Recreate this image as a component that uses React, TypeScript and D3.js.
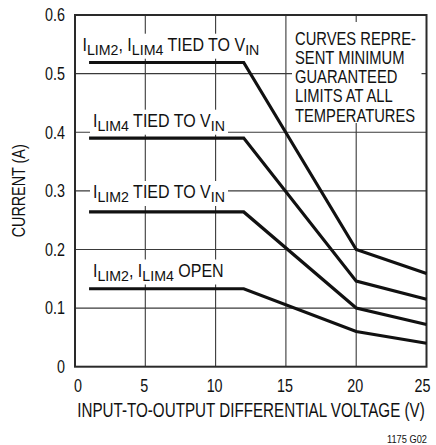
import React from "react";
import * as d3 from "d3";

const voltage = [1, 12, 20, 25];
const bothTied = [0.519, 0.519, 0.2, 0.159];
const lim4Tied = [0.39, 0.39, 0.146, 0.115];
const lim2Tied = [0.264, 0.264, 0.1, 0.072];
const bothOpen = [0.133, 0.133, 0.06, 0.04];

const xTicks = [0, 5, 10, 15, 20, 25];
const yTicks = [0, 0.1, 0.2, 0.3, 0.4, 0.5, 0.6];
const yTickLabels = ["0", "0.1", "0.2", "0.3", "0.4", "0.5", "0.6"];

type Seg = { t: string; sub?: boolean };
const label1: Seg[] = [{ t: "I" }, { t: "LIM2", sub: true }, { t: ", I" }, { t: "LIM4", sub: true }, { t: " TIED TO V" }, { t: "IN", sub: true }];
const label2: Seg[] = [{ t: "I" }, { t: "LIM4", sub: true }, { t: " TIED TO V" }, { t: "IN", sub: true }];
const label3: Seg[] = [{ t: "I" }, { t: "LIM2", sub: true }, { t: " TIED TO V" }, { t: "IN", sub: true }];
const label4: Seg[] = [{ t: "I" }, { t: "LIM2", sub: true }, { t: ", I" }, { t: "LIM4", sub: true }, { t: " OPEN" }];

const noteLines = ["CURVES REPRE-", "SENT MINIMUM", "GUARANTEED", "LIMITS AT ALL", "TEMPERATURES"];
const xTitle = "INPUT-TO-OUTPUT DIFFERENTIAL VOLTAGE (V)";
const yTitle = "CURRENT (A)";
const figId = "1175 G02";

const W = 436, H = 445;
const SANS = "'Liberation Sans', Arial, sans-serif";
const SX = 0.82; // horizontal condensing

export default function App() {
  const x = d3.scaleLinear().domain([0, 25]).range([75, 426.5]);
  const y = d3.scaleLinear().domain([0, 0.6]).range([366.7, 15]);
  const line = d3.line<number>().x((_, i) => x(voltage[i])).y((d) => y(d));
  const series = [bothTied, lim4Tied, lim2Tied, bothOpen];

  const labelLayout = [
    { segs: label1, x: 82.5, y: 50.7, w: 179 },
    { segs: label2, x: 93, y: 126.7, w: 132 },
    { segs: label3, x: 93, y: 198, w: 132 },
    { segs: label4, x: 93, y: 276.5, w: 131 },
  ];

  const renderLabel = (segs: Seg[]) => {
    let inSub = false;
    return segs.map((s, i) => {
      let dy = 0;
      if (s.sub && !inSub) { dy = 4.4; inSub = true; }
      else if (!s.sub && inSub) { dy = -4.4; inSub = false; }
      return (
        <tspan key={i} dy={dy} fontSize={s.sub ? 15.5 : 17.5}>{s.t}</tspan>
      );
    });
  };

  const Narrow = ({ tx, ty, anchor = "start", size, children, rot = 0, sx = SX }: any) => (
    <g transform={`translate(${tx},${ty}) rotate(${rot}) scale(${sx},1)`}>
      <text x={0} y={0} textAnchor={anchor} fontFamily={SANS} fontSize={size} fill="#111">{children}</text>
    </g>
  );

  return (
    <svg width={W} height={H} style={{ position: "absolute", left: 0, top: 0, background: "#fff" }}>
      <rect x={0} y={0} width={W} height={H} fill="#fff" />
      {xTicks.slice(1, -1).map((t) => (
        <line key={"gx" + t} x1={x(t)} x2={x(t)} y1={y(0.6)} y2={y(0)} stroke="#3a3a3a" strokeWidth={1.1} />
      ))}
      {yTicks.slice(1, -1).map((t) => (
        <line key={"gy" + t} x1={x(0)} x2={x(25)} y1={y(t)} y2={y(t)} stroke="#3a3a3a" strokeWidth={1.1} />
      ))}
      {labelLayout.map((l, i) => (
        <rect key={"lb" + i} x={l.x - 3} y={l.y - 17} width={l.w + 6} height={25} fill="#fff" />
      ))}
      <rect x={292} y={22} width={129.5} height={101} fill="#fff" />
      <rect x={x(0)} y={y(0.6)} width={x(25) - x(0)} height={y(0) - y(0.6)} fill="none" stroke="#2a2a2a" strokeWidth={2} />
      {series.map((s, i) => (
        <path key={"c" + i} d={line(s) || ""} fill="none" stroke="#111" strokeWidth={3.2} strokeLinejoin="miter" />
      ))}
      {labelLayout.map((l, i) => (
        <g key={"lt" + i} transform={`translate(${l.x},${l.y}) scale(0.915,1)`}>
          <text x={0} y={0} fontFamily={SANS} fill="#111">{renderLabel(l.segs)}</text>
        </g>
      ))}
      {noteLines.map((t, i) => (
        <Narrow key={"n" + i} tx={295} ty={44.5 + i * 19.3} size={18}>{t}</Narrow>
      ))}
      {yTicks.map((t, i) => (
        <Narrow key={"yt" + i} tx={65} ty={y(t) + 6.3} anchor="end" size={17.5}>{yTickLabels[i]}</Narrow>
      ))}
      {xTicks.map((t) => (
        <Narrow key={"xt" + t} tx={t === 0 ? x(t) + 3 : t === 25 ? x(t) - 4 : x(t) - 1} ty={391.7} anchor="middle" size={17.5}>{t}</Narrow>
      ))}
      <Narrow tx={251} ty={417.3} anchor="middle" size={19.5} sx={0.779}>{xTitle}</Narrow>
      <Narrow tx={25} ty={(y(0) + y(0.6)) / 2} rot={-90} anchor="middle" size={17.5}>{yTitle}</Narrow>
      <Narrow tx={427} ty={443} anchor="end" size={11.3}>{figId}</Narrow>
    </svg>
  );
}
